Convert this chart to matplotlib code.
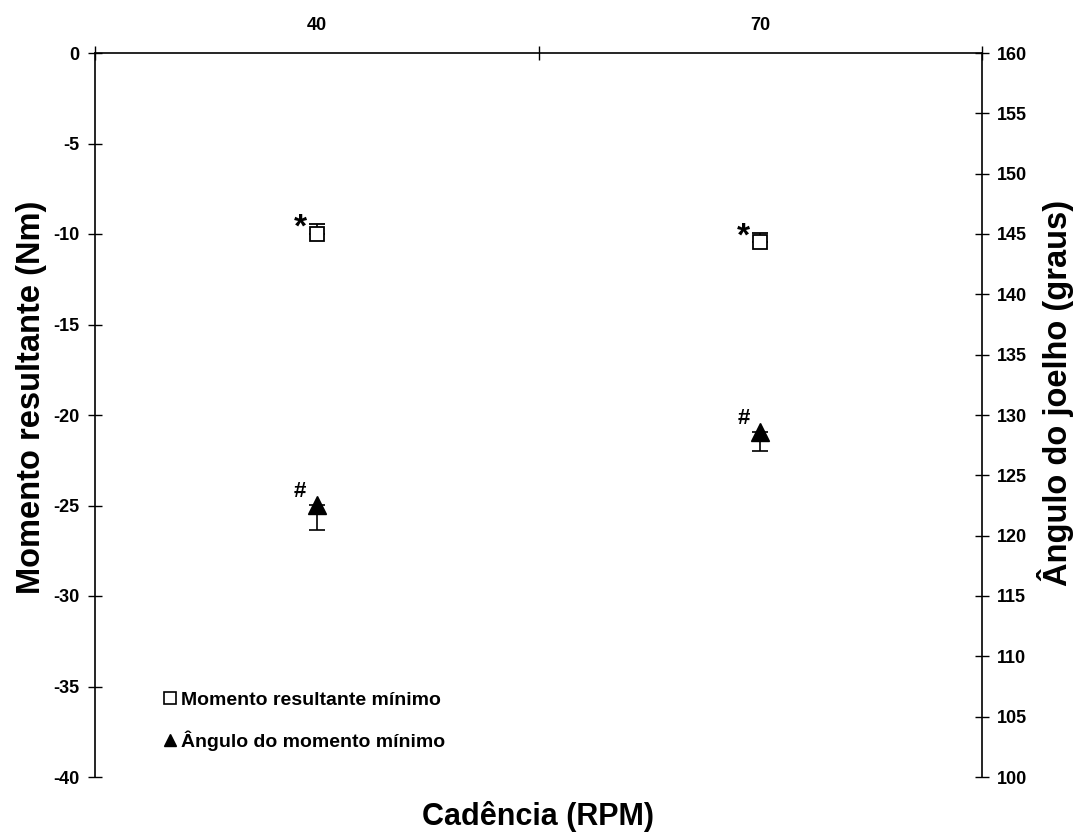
import matplotlib
matplotlib.use("Agg")
import matplotlib.pyplot as plt
from matplotlib.lines import Line2D
from matplotlib import font_manager

cadence = ["40", "70"]
moment_mean = [-10.0, -10.45]
moment_sd = [0.55, 0.5]
angle_mean = [122.55, 128.55]
angle_sd = [2.05, 1.5]
moment_marks = ["*", "*"]
angle_marks = ["#", "#"]
left_ticks = [0, -5, -10, -15, -20, -25, -30, -35, -40]
right_ticks = [100, 105, 110, 115, 120, 125, 130, 135, 140, 145, 150, 155, 160]

names = {f.name for f in font_manager.fontManager.ttflist}
narrow = "Liberation Sans Narrow" if "Liberation Sans Narrow" in names else "Liberation Sans"
plt.rcParams['font.family'] = [narrow, 'DejaVu Sans']
wide = ['Liberation Sans', 'DejaVu Sans']

fig = plt.figure(figsize=(10.78, 8.34), dpi=100)
ax = fig.add_axes([95/1078, 1-777/834, (982-95)/1078, (777-53)/834])
ax2 = ax.twinx()

xpos = [0.5, 1.5]
ax.set_xlim(0, 2)
ax.set_ylim(-40, 0)
ax2.set_ylim(100, 160)

for a in (ax, ax2):
    a.spines['bottom'].set_visible(False)
    for s in a.spines.values():
        s.set_linewidth(1.2)
ax.spines['right'].set_visible(False)
ax2.spines['left'].set_visible(False)
ax2.spines['top'].set_visible(False)

ax.xaxis.tick_top()
ax.set_xticks([0, 1, 2])
ax.set_xticklabels(["", "", ""])
ax.set_xticks(xpos, minor=True)
ax.set_xticklabels(cadence, minor=True, fontsize=13, fontweight='bold')
ax.tick_params(axis='x', which='major', direction='inout', length=10, width=1)
ax.tick_params(axis='x', which='minor', length=0, pad=14)

ax.set_yticks(left_ticks)
ax.set_yticklabels([str(v) for v in left_ticks], fontsize=13, fontweight='bold')
ax.tick_params(axis='y', direction='inout', length=10, width=1, pad=6)
ax2.set_yticks(right_ticks)
ax2.set_yticklabels([str(v) for v in right_ticks], fontsize=13, fontweight='bold')
ax2.tick_params(axis='y', direction='inout', length=10, width=1, pad=6)

# moment series (open squares, upward error bars)
ax.errorbar(xpos, moment_mean, yerr=[[0, 0], moment_sd], fmt='s', mfc='white', mec='black',
            mew=1.3, ms=10, ecolor='black', elinewidth=1.2, capsize=6, capthick=1.2, zorder=3)
# angle series (filled triangles, downward error bars)
ax2.errorbar(xpos, angle_mean, yerr=[angle_sd, [0, 0]], fmt='^', mfc='black', mec='black',
             ms=13, ecolor='black', elinewidth=1.2, capsize=6, capthick=1.2, zorder=3)

for x, y, m in zip(xpos, moment_mean, moment_marks):
    ax.annotate(m, (x, y), xytext=(-12, 4), textcoords='offset points', ha='center', va='center',
                fontsize=24, fontweight='bold', family=wide)
for x, y, m in zip(xpos, angle_mean, angle_marks):
    ax2.annotate(m, (x, y), xytext=(-12, 10), textcoords='offset points', ha='center', va='center',
                 fontsize=16, fontweight='bold')

ax.set_xlabel("Cadência (RPM)", fontsize=22, fontweight='bold', family=wide)
ax.xaxis.set_label_position('bottom')
ax.xaxis.labelpad = 17
ax.set_ylabel("Momento resultante (Nm)", fontsize=23.5, fontweight='bold', family=wide)
ax.yaxis.labelpad = 5
ax2.set_ylabel("Ângulo do joelho (graus)", fontsize=23.5, fontweight='bold', family=wide)
ax2.yaxis.labelpad = 7
fig.canvas.draw()
ax.yaxis.label.set_y(0.525)
ax2.yaxis.label.set_y(0.53)

handles = [Line2D([], [], ls='none', marker='s', mfc='white', mec='black', ms=8, mew=1.2),
           Line2D([], [], ls='none', marker='^', mfc='black', mec='black', ms=9)]
leg = ax.legend(handles, ["Momento resultante mínimo", "Ângulo do momento mínimo"],
                loc='lower left', bbox_to_anchor=(0.058, 0.012), frameon=False,
                handlelength=0.6, handletextpad=0.3, labelspacing=1.1,
                prop={'family': [narrow, 'DejaVu Sans'], 'weight': 'bold', 'size': 14})

fig.savefig("out.png", dpi=100)
